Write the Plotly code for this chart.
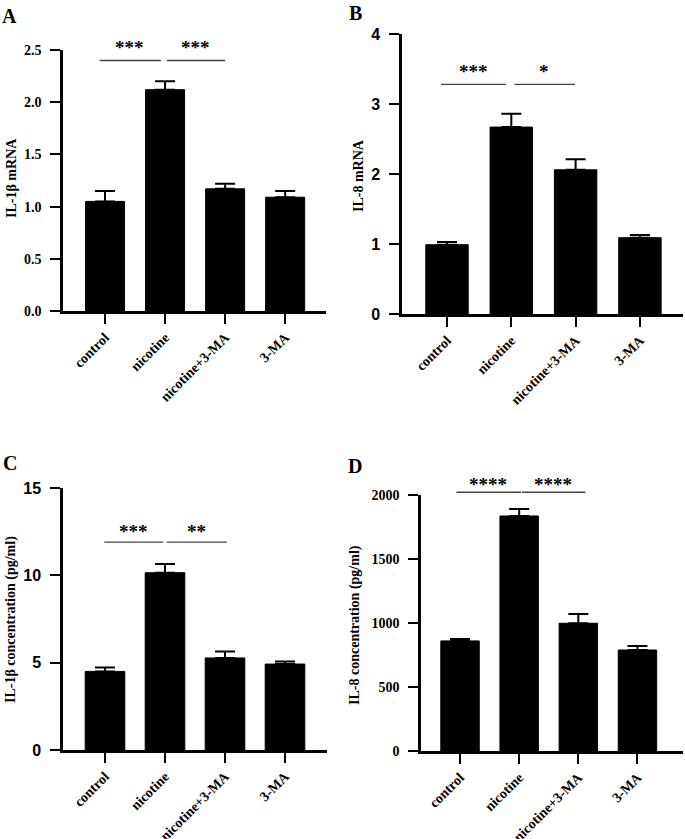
import plotly.graph_objects as go

groups = ["control", "nicotine", "nicotine+3-MA", "3-MA"]

a_mean = [1.05, 2.12, 1.17, 1.09]
a_err = [0.10, 0.08, 0.05, 0.06]
b_mean = [0.99, 2.67, 2.06, 1.09]
b_err = [0.04, 0.19, 0.15, 0.04]
c_mean = [4.50, 10.15, 5.27, 4.92]
c_err = [0.23, 0.50, 0.37, 0.15]
d_mean = [860, 1836, 998, 789]
d_err = [15, 55, 72, 32]

a_sig = ["***", "***"]
b_sig = ["***", "*"]
c_sig = ["***", "**"]
d_sig = ["****", "****"]

a_sig_y, a_star_y = 2.40, 2.52
b_sig_y, b_star_y = 3.28, 3.46
c_sig_y, c_star_y = 11.9, 12.5
d_sig_y, d_star_y = 2021, 2085

a_lines = [(-0.1, 0.93), (1.02, 2.0)]
b_lines = [(-0.1, 0.92), (1.04, 1.99)]
c_lines = [(-0.02, 0.97), (1.02, 2.03)]
d_lines = [(-0.07, 1.03), (1.04, 2.12)]

SERIF = "Liberation Serif"
SANS = "Liberation Sans"
W, H = 685, 839

panels = [
    dict(k="", mean=a_mean, err=a_err, sig=a_sig, sy=a_sig_y, st=a_star_y, lines=a_lines,
         xpx=(63, 326), ypx=(311, 50), xr=[-0.7, 3.68], yr=[0, 2.5], dt=0.5, fmt=".1f",
         tickfont=SERIF, ticksize=14, title="IL-1β mRNA", tpos=(11, 178),
         letter="A", lpos=(9, 16), lanchor="middle", bw=0.65),
    dict(k="2", mean=b_mean, err=b_err, sig=b_sig, sy=b_sig_y, st=b_star_y, lines=b_lines,
         xpx=(402, 683), ypx=(314, 34), xr=[-0.70, 3.67], yr=[0, 4], dt=1, fmt="d",
         tickfont=SANS, ticksize=16, title="IL-8 mRNA", tpos=(358, 176),
         letter="B", lpos=(355, 0), lanchor="top", bw=0.66),
    dict(k="3", mean=c_mean, err=c_err, sig=c_sig, sy=c_sig_y, st=c_star_y, lines=c_lines,
         xpx=(63, 327), ypx=(750, 488), xr=[-0.7, 3.7], yr=[0, 15], dt=5, fmt="d",
         tickfont=SANS, ticksize=16, title="IL-1β concentration (pg/ml)", tpos=(11, 620),
         letter="C", lpos=(10, 463), lanchor="middle", bw=0.66),
    dict(k="4", mean=d_mean, err=d_err, sig=d_sig, sy=d_sig_y, st=d_star_y, lines=d_lines,
         xpx=(421, 683), ypx=(751, 495), xr=[-0.66, 3.77], yr=[0, 2000], dt=500, fmt="d",
         tickfont=SERIF, ticksize=14, title="IL-8 concentration (pg/ml)", tpos=(355, 625),
         letter="D", lpos=(355, 466), lanchor="middle", bw=0.65),
]

fig = go.Figure()
layout = dict(width=W, height=H, margin=dict(l=0, r=0, t=0, b=0, autoexpand=False),
              plot_bgcolor="white", paper_bgcolor="white", showlegend=False)
annotations = []

for p in panels:
    k = p["k"]
    xa, ya = "x" + k, "y" + k
    yd = ya + " domain"
    y0, y1 = p["yr"]

    def yfrac(v):
        return (v - y0) / (y1 - y0)

    fig.add_trace(go.Bar(
        x=list(range(len(groups))), y=p["mean"], width=p["bw"],
        marker=dict(color="black", line=dict(color="black", width=1)),
        error_y=dict(type="data", array=p["err"], arrayminus=[0] * len(groups),
                     symmetric=False, color="black", thickness=2, width=10),
        xaxis=xa, yaxis=ya,
    ))
    xdom = [p["xpx"][0] / W, p["xpx"][1] / W]
    ydom = [1 - p["ypx"][0] / H, 1 - p["ypx"][1] / H]
    layout["xaxis" + k] = dict(
        domain=xdom, range=p["xr"], anchor=ya, automargin=False,
        tickmode="array", tickvals=list(range(len(groups))), ticktext=groups,
        tickangle=-45, ticks="outside", ticklen=10, tickwidth=2, tickcolor="black",
        showline=True, linecolor="black", linewidth=2.5, showgrid=False, zeroline=False,
        tickfont=dict(family=SERIF, size=14, color="black", weight="bold"),
        ticklabelstandoff=0, fixedrange=True,
    )
    layout["yaxis" + k] = dict(
        domain=ydom, range=p["yr"], anchor=xa, dtick=p["dt"], tick0=0, automargin=False,
        tickformat=p["fmt"], ticks="outside", ticklen=10, tickwidth=2, tickcolor="black",
        showline=True, linecolor="black", linewidth=2.5, showgrid=False, zeroline=False,
        tickfont=dict(family=p["tickfont"], size=p["ticksize"], color="black", weight="bold"),
        ticklabelstandoff=6, fixedrange=True,
    )
    # significance lines (drawn as plain arrows so they are not clipped)
    for (x0, x1), s in zip(p["lines"], p["sig"]):
        annotations.append(dict(
            xref=xa, yref=yd, axref=xa, ayref=yd, x=x1, y=yfrac(p["sy"]), ax=x0, ay=yfrac(p["sy"]),
            text="", showarrow=True, arrowhead=0, arrowwidth=1.4, arrowcolor="#444",
            standoff=0, startstandoff=0, borderpad=0, font=dict(size=1),
        ))
        annotations.append(dict(
            xref=xa, yref=yd, x=(x0 + x1) / 2, y=yfrac(p["st"]), text=s, showarrow=False,
            font=dict(family=SERIF, size=19, color="black", weight="bold"),
            xanchor="center", yanchor="middle",
        ))
    # axis title
    annotations.append(dict(
        xref="paper", yref="paper", x=p["tpos"][0] / W, y=1 - p["tpos"][1] / H,
        text=p["title"], textangle=-90, showarrow=False, xanchor="center", yanchor="middle",
        font=dict(family=SERIF, size=14, color="black", weight="bold"),
    ))
    # panel letter
    annotations.append(dict(
        xref="paper", yref="paper", x=p["lpos"][0] / W, y=1 - p["lpos"][1] / H,
        text=p["letter"], showarrow=False, xanchor="center", yanchor=p["lanchor"],
        font=dict(family=SERIF, size=20, color="black", weight="bold"),
    ))

layout["annotations"] = annotations
fig.update_layout(**layout)
fig.write_html("out.html", config={"displayModeBar": False},
               post_script="document.body.style.margin='0px';")
